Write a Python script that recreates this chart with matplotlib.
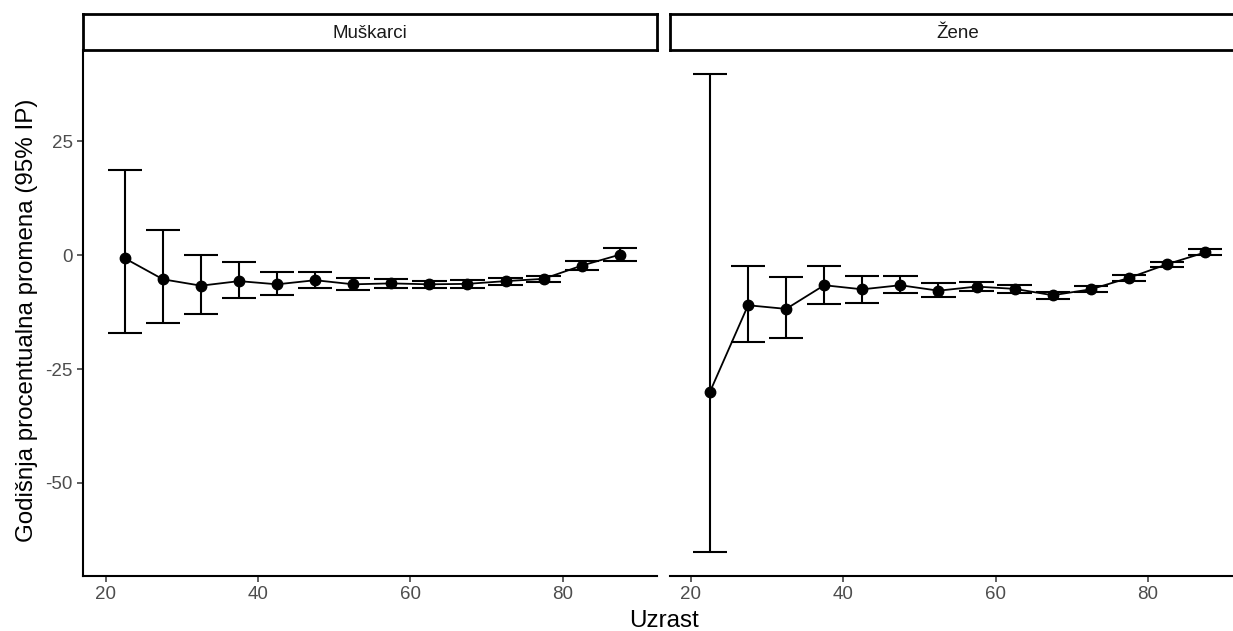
import matplotlib
matplotlib.use("Agg")
import matplotlib.pyplot as plt
import numpy as np

plt.rcParams['font.family'] = ['Liberation Sans', 'DejaVu Sans']
plt.rcParams['axes.unicode_minus'] = False

# age group midpoints
ages = [22.5, 27.5, 32.5, 37.5, 42.5, 47.5, 52.5, 57.5, 62.5, 67.5, 72.5, 77.5, 82.5, 87.5]

# annual percent change with 95% interval, men
men_apc = [-0.7, -5.3, -6.7, -5.7, -6.4, -5.5, -6.4, -6.2, -6.4, -6.3, -5.7, -5.2, -2.3, 0.1]
men_lo = [-17.1, -15.0, -12.9, -9.5, -8.8, -7.3, -7.6, -7.3, -7.2, -7.2, -6.5, -5.9, -3.2, -1.3]
men_hi = [18.8, 5.5, 0.0, -1.5, -3.6, -3.6, -5.0, -5.3, -5.6, -5.5, -5.0, -4.6, -1.3, 1.5]

# annual percent change with 95% interval, women
women_apc = [-30.0, -11.0, -11.8, -6.6, -7.5, -6.6, -7.8, -6.9, -7.4, -8.8, -7.5, -5.0, -2.0, 0.6]
women_lo = [-65.2, -19.0, -18.2, -10.7, -10.4, -8.4, -9.1, -7.9, -8.2, -9.6, -8.1, -5.6, -2.5, 0.0]
women_hi = [39.8, -2.4, -4.9, -2.4, -4.6, -4.6, -6.2, -5.8, -6.5, -8.1, -6.8, -4.4, -1.4, 1.3]

panels = [
    ("Muškarci", men_apc, men_lo, men_hi),
    ("Žene", women_apc, women_lo, women_hi),
]

W, H = 1233, 631
fig = plt.figure(figsize=(W / 100, H / 100), dpi=100)

panel_left = [83, 670]
panel_w = [574, 575]
panel_top, panel_bottom = 50, 576
strip_top = 14

cap_half = 2.25
tick_color = '#333333'
label_color = '#4D4D4D'

for i, (name, apc, lo, hi) in enumerate(panels):
    x0 = panel_left[i]
    pw = panel_w[i]
    ax = fig.add_axes([x0 / W, (H - panel_bottom) / H, pw / W, (panel_bottom - panel_top) / H])
    a = np.array(ages)
    ax.vlines(a, lo, hi, color='black', linewidth=1.5, zorder=2)
    ax.hlines(lo, a - cap_half, a + cap_half, color='black', linewidth=1.5, zorder=2)
    ax.hlines(hi, a - cap_half, a + cap_half, color='black', linewidth=1.5, zorder=2)
    ax.plot(ages, apc, color='black', linewidth=1.3, zorder=3)
    ax.plot(ages, apc, 'o', color='black', markersize=7.5, zorder=4)

    if i == 0:
        ax.set_xlim(17.0, 92.4)
    else:
        ax.set_xlim(17.25, 92.75)
    ax.set_ylim(-70.45, 45.05)
    ax.set_xticks([20, 40, 60, 80])
    ax.set_yticks([-50, -25, 0, 25])

    for side in ['top', 'right']:
        ax.spines[side].set_visible(False)
    ax.spines['bottom'].set_linewidth(1.5)
    ax.spines['left'].set_linewidth(1.5)
    ax.tick_params(axis='both', colors=tick_color, labelcolor=label_color,
                   labelsize=13.5, length=4.5, width=1.1, pad=3)
    if i == 1:
        ax.spines['left'].set_visible(False)
        ax.tick_params(axis='y', left=False, labelleft=False)

    # facet strip
    sax = fig.add_axes([x0 / W, (H - panel_top) / H, pw / W, (panel_top - strip_top) / H])
    sax.set_xticks([])
    sax.set_yticks([])
    for sp in sax.spines.values():
        sp.set_linewidth(2.0)
        sp.set_color('black')
    sax.text(0.5, 0.47, name, transform=sax.transAxes, ha='center', va='center',
             fontsize=13.5, color='#1A1A1A')

fig.text((83 + 1245) / 2 / W, 1 - 621 / H, "Uzrast", ha='center', va='center', fontsize=17.4)
fig.text(27 / W, 1 - 320 / H, "Godišnja procentualna promena (95% IP)",
         ha='center', va='center', rotation=90, fontsize=17.4)

fig.savefig('out.png', dpi=100)
